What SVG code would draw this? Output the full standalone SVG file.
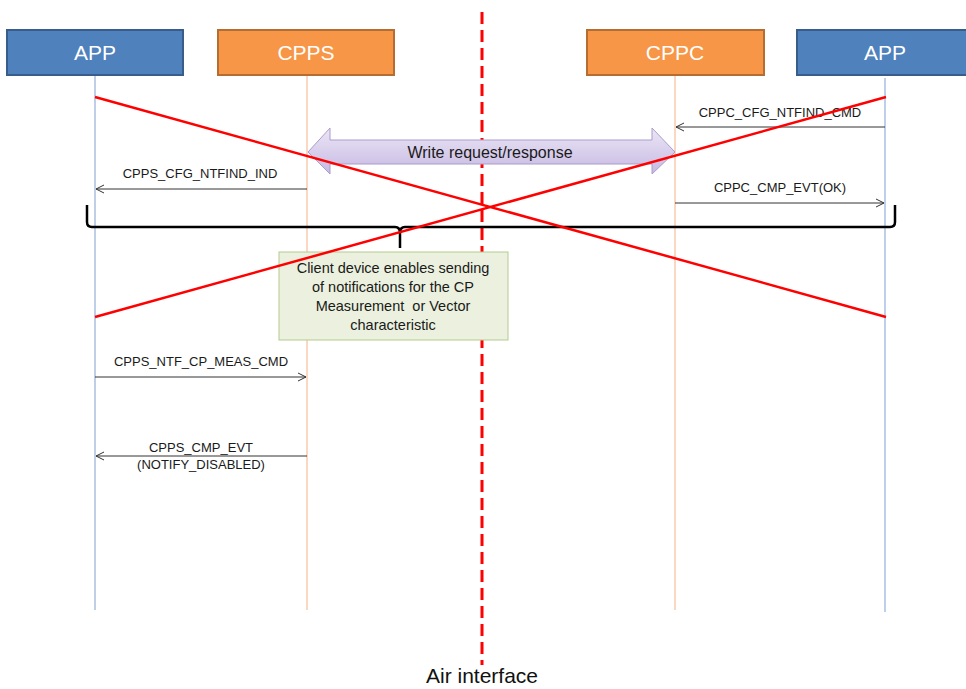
<svg xmlns="http://www.w3.org/2000/svg" width="966" height="689" viewBox="0 0 966 689">
<defs>
<linearGradient id="lav" x1="0" y1="0" x2="0" y2="1">
<stop offset="0" stop-color="#ece6f6"/>
<stop offset="1" stop-color="#c6b9e2"/>
</linearGradient>
<marker id="open" markerWidth="10" markerHeight="10" refX="9" refY="5" orient="auto" markerUnits="userSpaceOnUse">
<path d="M1,1 L9,5 L1,9" fill="none" stroke="#333" stroke-width="1"/>
</marker>
<style>
.hdr{font-family:"Liberation Sans",Arial,sans-serif;font-size:21px;fill:#fff;text-anchor:middle}
.blue{fill:#4f81bd;stroke:#385d8a;stroke-width:2}
.orange{fill:#f79646;stroke:#b66d31;stroke-width:2}
.lifeB{stroke:#7f9fd3;stroke-width:1}
.lifeO{stroke:#f4b183;stroke-width:1}
.msg{stroke:#333;stroke-width:1;fill:none;marker-end:url(#open)}
.lbl{font-family:"Liberation Sans",Arial,sans-serif;font-size:13px;fill:#1a1a1a;text-anchor:middle}
.note{font-family:"Liberation Sans",Arial,sans-serif;font-size:14.5px;fill:#1a1a1a;text-anchor:middle;white-space:pre}
.cross{stroke:#ff0000;stroke-width:2.5}
</style>
</defs>
<rect width="966" height="689" fill="#fff"/>

<g id="lifelines">
<line class="lifeB" x1="95" y1="75" x2="95" y2="610"/>
<line class="lifeO" x1="307" y1="75" x2="307" y2="610"/>
<line class="lifeO" x1="675" y1="75" x2="675" y2="610"/>
<line class="lifeB" x1="885" y1="78" x2="885" y2="612"/>
</g>

<g id="app-left"><rect class="blue" x="7" y="30" width="176" height="45"/><text class="hdr" x="95" y="60">APP</text></g>
<g id="cpps"><rect class="orange" x="218" y="30" width="176" height="45"/><text class="hdr" x="306" y="60">CPPS</text></g>
<g id="cppc"><rect class="orange" x="587" y="30" width="177" height="45"/><text class="hdr" x="675" y="60">CPPC</text></g>
<g id="app-right"><rect class="blue" x="797" y="30" width="176" height="45"/><text class="hdr" x="885" y="60">APP</text></g>

<g id="air-interface">
<line x1="482" y1="12" x2="482" y2="665" stroke="#ff0000" stroke-width="3" stroke-dasharray="12,6"/>
<text x="482" y="683" font-family="'Liberation Sans',Arial,sans-serif" font-size="21" fill="#111" text-anchor="middle">Air interface</text>
</g>

<g id="write-arrow">
<path d="M308,152 L330,128 L330,140 L652,140 L652,128 L675,152 L652,174 L652,164 L330,164 L330,174 Z" fill="url(#lav)" stroke="#a99dcc" stroke-width="1"/>
<text x="490" y="158" font-family="'Liberation Sans',Arial,sans-serif" font-size="16" fill="#1a1a1a" text-anchor="middle">Write request/response</text>
</g>

<g id="connectors">
<line class="msg" x1="885" y1="127" x2="676" y2="127"/>
<text class="lbl" x="780" y="117">CPPC_CFG_NTFIND_CMD</text>
<line class="msg" x1="307" y1="189" x2="96" y2="189"/>
<text class="lbl" x="200" y="178">CPPS_CFG_NTFIND_IND</text>
<line class="msg" x1="675" y1="203" x2="884" y2="203"/>
<text class="lbl" x="780" y="192">CPPC_CMP_EVT(OK)</text>
<line class="msg" x1="95" y1="377" x2="306" y2="377"/>
<text class="lbl" x="201" y="366">CPPS_NTF_CP_MEAS_CMD</text>
<line class="msg" x1="307" y1="456" x2="96" y2="456"/>
<text class="lbl" x="201" y="452">CPPS_CMP_EVT</text>
<text class="lbl" x="201" y="469">(NOTIFY_DISABLED)</text>
</g>

<g id="brace">
<path d="M87,205 L87,222 Q87,227 92,227 L395,227 Q400,227 400,233 L400,248 M400,248 L400,233 Q400,227 405,227 L890,227 Q895,227 895,222 L895,205" fill="none" stroke="#000" stroke-width="2.5"/>
</g>

<g id="note">
<rect x="279" y="252" width="229" height="88" fill="#ebf1de" stroke="#b3cb8e" stroke-width="1"/>
<text class="note" x="393" y="273">Client device enables sending</text>
<text class="note" x="393" y="292">of notifications for the CP</text>
<text class="note" x="393" y="311" xml:space="preserve">Measurement  or Vector</text>
<text class="note" x="393" y="330">characteristic</text>
</g>

<g id="cross">
<line class="cross" x1="95" y1="97" x2="886" y2="317"/>
<line class="cross" x1="95" y1="317" x2="886" y2="97"/>
</g>
</svg>
